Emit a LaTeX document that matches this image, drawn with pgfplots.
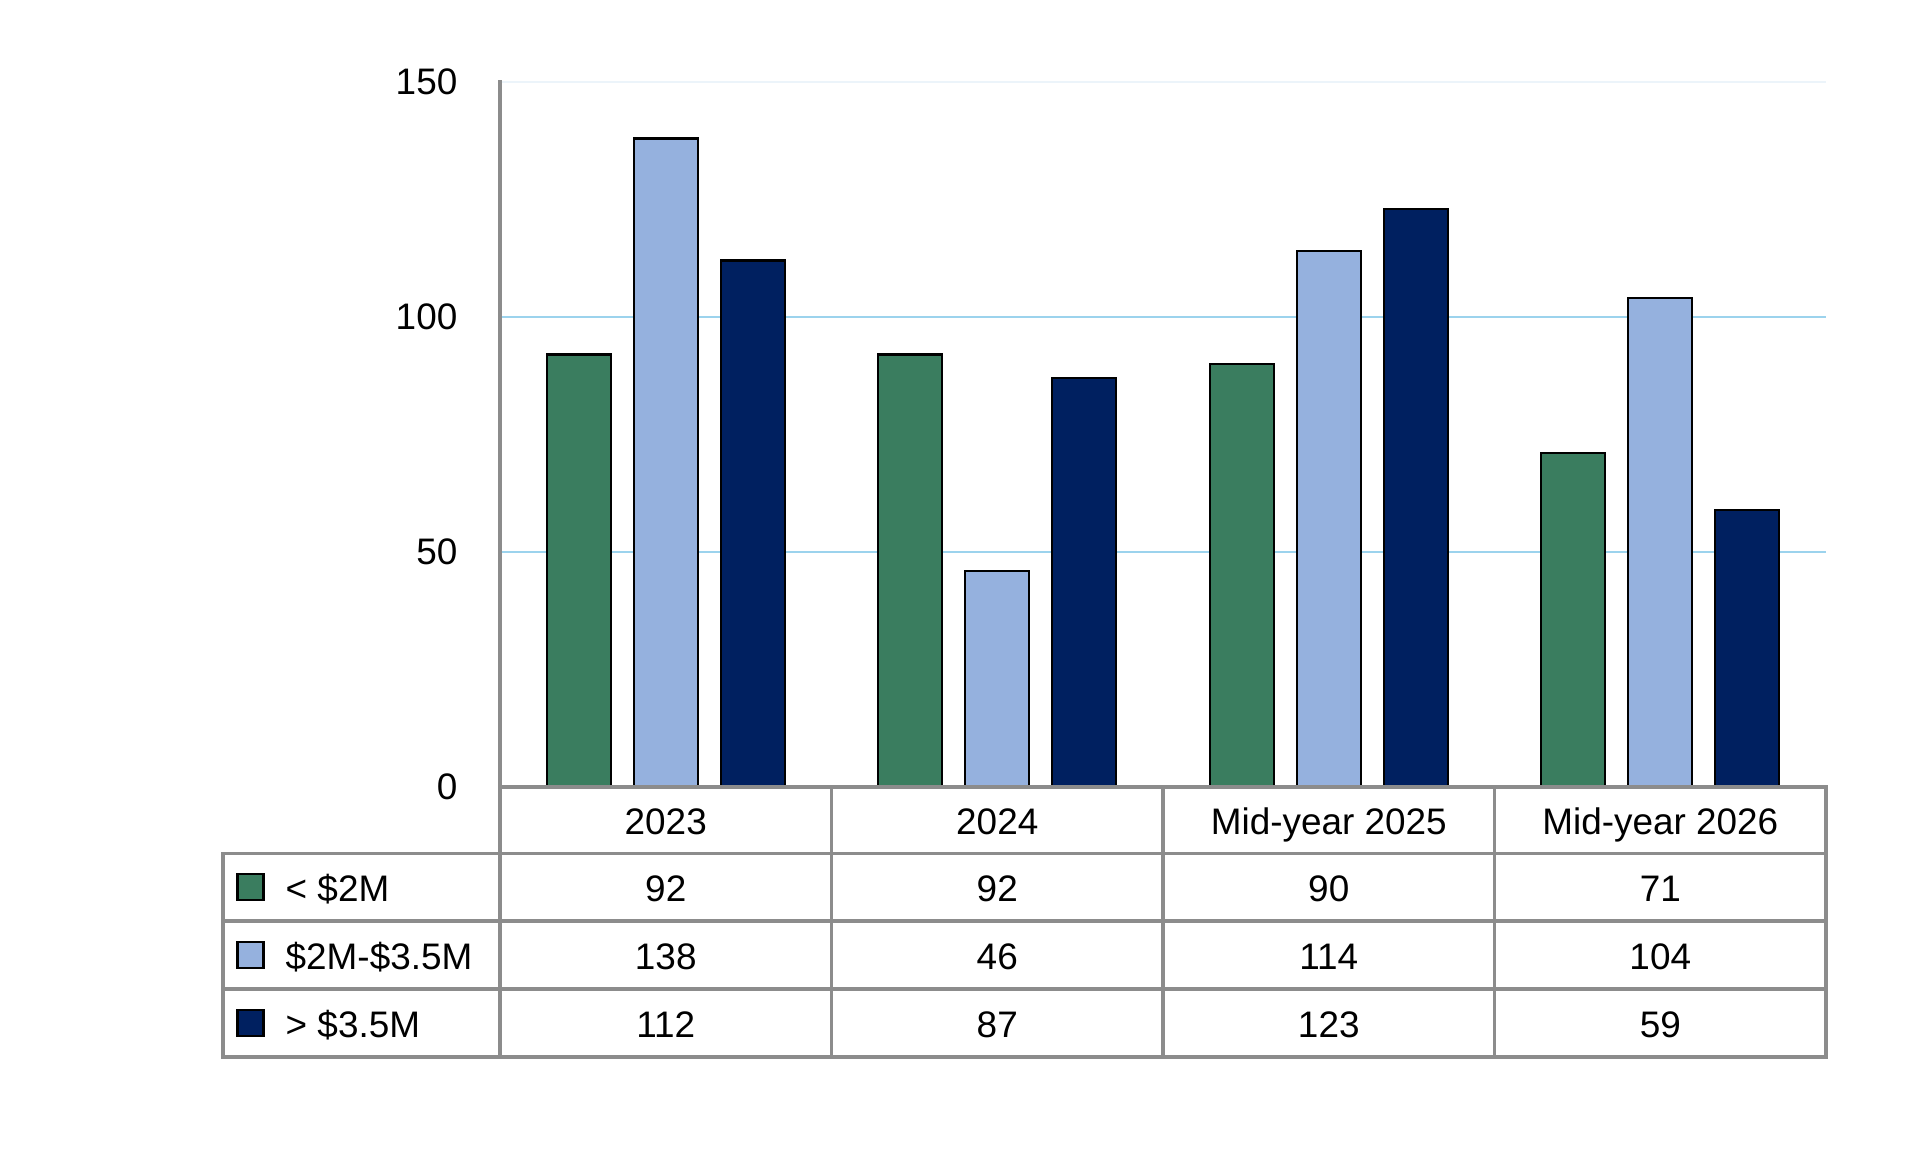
\documentclass[border=0pt]{standalone}
\usepackage{pgfplots}
\pgfplotsset{compat=1.18}
\usepackage{fontspec}
\setmainfont{Liberation Sans}

\definecolor{cGreen}{RGB}{58,125,95}
\definecolor{cLight}{RGB}{149,177,222}
\definecolor{cNavy}{RGB}{0,32,96}
\definecolor{cGrid}{RGB}{156,211,237}
\definecolor{cGridTop}{RGB}{236,244,250}
\definecolor{cRule}{RGB}{140,140,140}

\pgfplotstableread{
x low mid high
0 92 138 112
1 92 46 87
2 90 114 123
3 71 104 59
}\sales

\begin{document}
\begin{tikzpicture}[x=1cm, y=1cm, font=\fontsize{10.5}{12.6}\selectfont,
    cell/.style={anchor=base, inner sep=0pt}]
\useasboundingbox (0,0) rectangle (19.2,11.74);
\begin{axis}[
    at={(5.00cm,3.87cm)}, anchor=south west,
    scale only axis,
    width=13.26cm, height=7.05cm,
    ybar=0.23cm, bar width=0.64cm,
    xmin=-0.5, xmax=3.5,
    ymin=0, ymax=150,
    xtick=\empty,
    ytick={50,100},
    extra y ticks={0,150},
    extra y tick style={grid style={draw=cGridTop, line width=0.6pt}},
    ymajorgrids,
    grid style={draw=cGrid, line width=0.6pt},
    major tick length=0pt,
    axis line style={draw=none},
    yticklabel style={inner sep=0pt, xshift=-0.42cm},
    /pgf/number format/assume math mode=true,
]
\addplot[fill=cGreen, draw=black, line width=0.65pt] table[x=x, y=low] {\sales};
\addplot[fill=cLight, draw=black, line width=0.65pt] table[x=x, y=mid] {\sales};
\addplot[fill=cNavy, draw=black, line width=0.65pt] table[x=x, y=high] {\sales};
\end{axis}

% data table under the axis
\begin{scope}[draw=cRule, line width=1pt, line cap=rect]
  \draw (5.00,3.87) -- (5.00,10.92);
  \draw (5.00,3.87) -- (18.26,3.87);
  \foreach \yy in {3.205,2.53,1.85,1.17}
    \draw (2.23,\yy) -- (18.26,\yy);
  \draw (2.23,1.17) -- (2.23,3.205);
  \foreach \xx in {5.00,8.315,11.63,14.945,18.26}
    \draw (\xx,1.17) -- (\xx,3.87);
\end{scope}

\foreach \lab [count=\i from 0] in {2023,2024,Mid-year 2025,Mid-year 2026}
  \node[cell] at (6.6575+3.315*\i,3.5375-0.14) {\lab};

\foreach \c/\lab/\yy in {cGreen/{< \$2M}/2.8675, cLight/{\$2M-\$3.5M}/2.19, cNavy/{> \$3.5M}/1.51} {
  \filldraw[fill=\c, draw=black, line width=0.65pt] (2.375,\yy-0.13) rectangle ++(0.26,0.26);
  \node[cell, anchor=base west] at (2.85,\yy-0.14) {\lab};
}

\foreach \a/\b/\cc [count=\i from 0] in {92/138/112, 92/46/87, 90/114/123, 71/104/59} {
  \node[cell] at (6.6575+3.315*\i,2.8675-0.14) {\a};
  \node[cell] at (6.6575+3.315*\i,2.19-0.14) {\b};
  \node[cell] at (6.6575+3.315*\i,1.51-0.14) {\cc};
}
\end{tikzpicture}
\end{document}
